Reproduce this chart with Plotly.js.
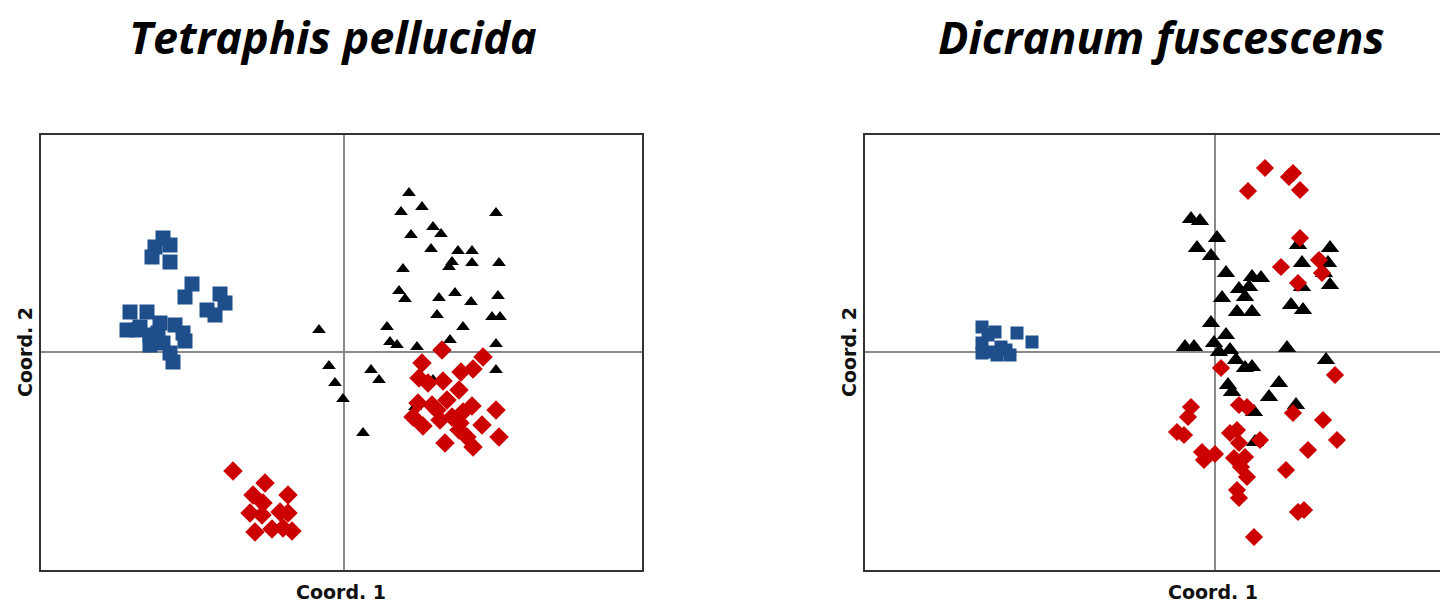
<!DOCTYPE html>
<html>
<head>
<meta charset="utf-8">
<script src="https://cdn.plot.ly/plotly-3.0.1.min.js"></script>
<style>
html,body{margin:0;padding:0;background:#fff;overflow:hidden;}
#chart{width:1470px;height:607px;}
</style>
</head>
<body>
<div id="chart"></div>
<script>
// ---- Panel titles and axis labels ----
const panelTitles = ["Tetraphis pellucida", "Dicranum fuscescens"];
const axisLabelX = "Coord. 1";
const axisLabelY = "Coord. 2";

// ---- Tetraphis pellucida (left panel) ----
const tpBlueX = [-1.81,-1.89,-1.74,-1.92,-1.74,-1.52,-1.59,-1.24,-1.19,-1.37,-1.29,-2.14,-1.97,-2.17,-2.04,-1.84,-1.69,-1.61,-1.94,-1.81,-1.74,-1.94,-1.71,-1.59,-2.06,-1.86];
const tpBlueY = [1.14,1.05,1.07,0.95,0.90,0.68,0.55,0.58,0.49,0.42,0.37,0.40,0.40,0.22,0.25,0.29,0.27,0.19,0.17,0.09,-0.01,0.07,-0.10,0.11,0.22,0.19];

const tpBlackX = [0.65,0.57,0.78,1.52,0.67,0.89,0.97,0.87,1.14,1.28,1.05,1.08,1.28,1.55,0.59,0.55,0.61,0.95,1.11,1.27,1.54,0.93,1.48,1.56,1.19,-0.25,0.43,0.46,0.53,0.73,1.06,1.52,-0.15,0.27,0.35,1.52,-0.09,-0.01,0.89,0.71,0.19];
const tpBlackY = [1.59,1.40,1.45,1.39,1.17,1.25,1.18,1.03,1.01,1.01,0.85,0.90,0.89,0.89,0.83,0.61,0.53,0.54,0.59,0.50,0.56,0.37,0.35,0.35,0.25,0.22,0.25,0.10,0.07,0.05,0.12,0.08,-0.14,-0.18,-0.28,-0.18,-0.31,-0.47,-0.28,-0.55,-0.81];

const tpRedX = [0.98,0.78,1.39,1.29,1.17,0.75,0.84,0.99,1.15,1.03,0.74,0.93,1.28,1.19,1.52,0.69,0.96,1.16,1.38,0.79,1.15,1.23,1.55,1.01,1.29,0.88,1.08,
                -1.11,-0.79,-0.91,-0.56,-0.81,-0.94,-0.64,-0.56,-0.82,-0.89,-0.72,-0.61,-0.52];
const tpRedY = [0.02,-0.11,-0.05,-0.17,-0.20,-0.26,-0.31,-0.29,-0.38,-0.48,-0.51,-0.58,-0.54,-0.60,-0.58,-0.65,-0.68,-0.71,-0.73,-0.74,-0.78,-0.85,-0.85,-0.91,-0.95,-0.53,-0.65,
                -1.19,-1.31,-1.43,-1.43,-1.51,-1.61,-1.60,-1.61,-1.63,-1.80,-1.77,-1.76,-1.79];

// ---- Dicranum fuscescens (right panel) ----
const dfBlueX = [-2.33,-2.27,-2.20,-2.33,-2.26,-2.14,-2.05,-1.98,-1.83,-2.33,-2.18,-2.09];
const dfBlueY = [0.25,0.17,0.20,0.09,0.00,0.05,-0.03,0.19,0.10,-0.01,-0.03,0.02];

const dfBlackX = [-0.24,-0.15,0.02,-0.18,-0.04,0.11,0.37,0.46,0.24,0.34,0.07,0.30,0.22,0.37,0.76,0.88,0.83,1.15,0.87,1.13,1.09,1.15,0.87,-0.04,0.11,-0.01,-0.30,-0.21,0.04,0.15,0.21,0.30,0.37,0.72,1.11,0.13,0.17,0.64,0.54,0.81,0.39,0.40];
const dfBlackY = [1.33,1.31,1.14,1.04,0.96,0.79,0.75,0.74,0.63,0.65,0.54,0.55,0.40,0.40,0.47,0.42,1.07,1.04,0.89,0.89,0.79,0.67,0.65,0.29,0.17,0.09,0.05,0.05,0.00,0.02,-0.08,-0.16,-0.15,0.04,-0.08,-0.33,-0.40,-0.31,-0.45,-0.53,-0.60,-0.90];

const dfRedX = [0.50,0.74,0.78,0.33,0.85,0.85,0.66,1.04,1.07,0.83,0.06,1.20,-0.24,-0.27,-0.38,-0.31,0.24,0.32,0.15,0.22,0.24,0.45,0.78,1.08,1.22,-0.13,0.00,-0.11,0.19,0.30,0.26,0.32,0.93,0.71,0.22,0.24,0.83,0.89,0.39];
const dfRedY = [1.84,1.75,1.79,1.61,1.62,1.14,0.85,0.92,0.79,0.69,-0.16,-0.23,-0.55,-0.65,-0.80,-0.83,-0.53,-0.55,-0.81,-0.78,-0.91,-0.88,-0.61,-0.68,-0.88,-1.00,-1.02,-1.08,-1.06,-1.05,-1.15,-1.25,-0.98,-1.18,-1.38,-1.46,-1.60,-1.58,-1.85];

const BLUE = "#1F4E8C", RED = "#CC0000", BLACK = "#000000";

function tr(x, y, symbol, color, size, ax) {
  return {
    type: "scatter", mode: "markers", x: x, y: y,
    xaxis: ax === 2 ? "x2" : "x", yaxis: ax === 2 ? "y2" : "y",
    marker: {symbol: symbol, color: color, size: size, line: {width: 0}},
    hoverinfo: "skip", showlegend: false
  };
}

const data = [
  tr(tpBlueX, tpBlueY, "square", BLUE, 15, 1),
  tr(tpBlackX, tpBlackY, "triangle-up", BLACK, 12, 1),
  tr(tpRedX, tpRedY, "diamond", RED, 15, 1),
  tr(dfBlueX, dfBlueY, "square", BLUE, 13, 2),
  tr(dfBlackX, dfBlackY, "triangle-up", BLACK, 16, 2),
  tr(dfRedX, dfRedY, "diamond", RED, 14, 2)
];

const W = 1470, H = 607;
function axisCommon(range, domain) {
  return {
    range: range, domain: domain, showgrid: false, showticklabels: false, ticks: "",
    zeroline: true, zerolinecolor: "#8a8a8a", zerolinewidth: 1.5,
    showline: true, mirror: true, linecolor: "#333333", linewidth: 2, fixedrange: true
  };
}
const yDom = [37 / H, 472 / H];

const titleFont = {family: "'Open Sans', Lato, sans-serif", size: 45, color: "#000", weight: 700, style: "italic"};
const labFont = {family: "'DejaVu Sans', sans-serif", size: 19, color: "#111", weight: 700};

const layout = {
  width: W, height: H,
  margin: {l: 0, r: 0, t: 0, b: 0},
  paper_bgcolor: "#fff", plot_bgcolor: "#fff",
  showlegend: false,
  xaxis: axisCommon([-3.03, 2.98], [41 / W, 642 / W]),
  yaxis: axisCommon([-2.18, 2.17], yDom),
  xaxis2: Object.assign(axisCommon([-3.50, 2.51], [865 / W, 1466 / W]), {anchor: "y2"}),
  yaxis2: Object.assign(axisCommon([-2.18, 2.17], yDom), {anchor: "x2"}),
  annotations: [
    {text: panelTitles[0], xref: "paper", yref: "paper", x: 333 / W, y: (H - 37) / H, xanchor: "center", yanchor: "middle", showarrow: false, font: titleFont},
    {text: panelTitles[1], xref: "paper", yref: "paper", x: 1161 / W, y: (H - 37) / H, xanchor: "center", yanchor: "middle", showarrow: false, font: titleFont},
    {text: axisLabelX, xref: "paper", yref: "paper", x: 341 / W, y: (H - 592) / H, xanchor: "center", yanchor: "middle", showarrow: false, font: labFont},
    {text: axisLabelX, xref: "paper", yref: "paper", x: 1213 / W, y: (H - 592) / H, xanchor: "center", yanchor: "middle", showarrow: false, font: labFont},
    {text: axisLabelY, xref: "paper", yref: "paper", x: 25 / W, y: (H - 352) / H, xanchor: "center", yanchor: "middle", textangle: -90, showarrow: false, font: labFont},
    {text: axisLabelY, xref: "paper", yref: "paper", x: 849 / W, y: (H - 352) / H, xanchor: "center", yanchor: "middle", textangle: -90, showarrow: false, font: labFont}
  ]
};

Plotly.newPlot("chart", data, layout, {staticPlot: true, displayModeBar: false});
</script>
</body>
</html>
